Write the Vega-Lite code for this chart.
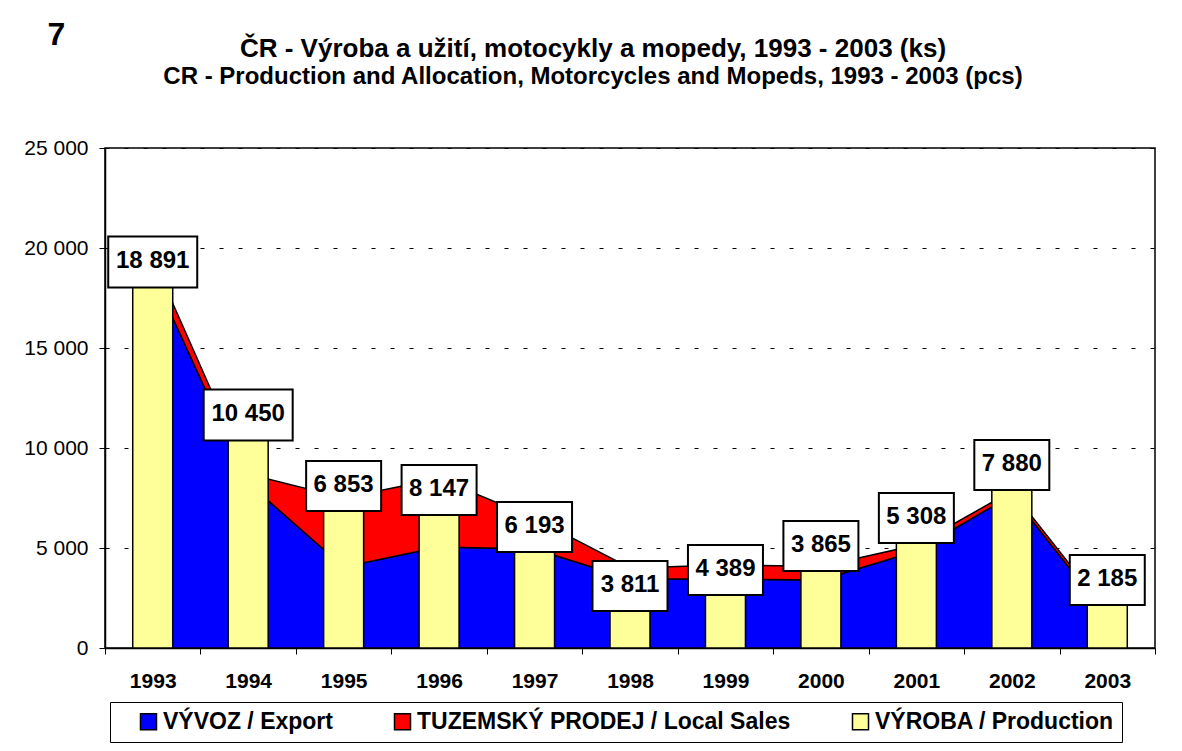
{
  "$schema": "https://vega.github.io/schema/vega-lite/v6.json",
  "width": 1050,
  "height": 500,
  "autosize": {"type": "none"},
  "padding": {"left": 105, "top": 148, "right": 27, "bottom": 103},
  "background": "white",
  "title": {
    "text": "ČR - Výroba a užití, motocykly a mopedy, 1993 - 2003 (ks)",
    "subtitle": "CR - Production and Allocation, Motorcycles and Mopeds, 1993 - 2003 (pcs)",
    "anchor": "middle",
    "frame": "group",
    "dx": -37,
    "offset": -71,
    "font": "Liberation Sans",
    "fontSize": 26,
    "fontWeight": "bold",
    "color": "black",
    "subtitleFont": "Liberation Sans",
    "subtitleFontSize": 24,
    "subtitleFontWeight": "bold",
    "subtitleColor": "black",
    "subtitlePadding": 3
  },
  "datasets": {
    "areas": [
      {"year": "1993", "series": "VÝVOZ / Export", "value": 18700},
      {"year": "1994", "series": "VÝVOZ / Export", "value": 8250},
      {"year": "1995", "series": "VÝVOZ / Export", "value": 4050},
      {"year": "1996", "series": "VÝVOZ / Export", "value": 5050},
      {"year": "1997", "series": "VÝVOZ / Export", "value": 4950},
      {"year": "1998", "series": "VÝVOZ / Export", "value": 3450},
      {"year": "1999", "series": "VÝVOZ / Export", "value": 3450},
      {"year": "2000", "series": "VÝVOZ / Export", "value": 3400},
      {"year": "2001", "series": "VÝVOZ / Export", "value": 4850},
      {"year": "2002", "series": "VÝVOZ / Export", "value": 7650},
      {"year": "2003", "series": "VÝVOZ / Export", "value": 1600},
      {"year": "1993", "series": "TUZEMSKÝ PRODEJ / Local Sales", "value": 800},
      {"year": "1994", "series": "TUZEMSKÝ PRODEJ / Local Sales", "value": 450},
      {"year": "1995", "series": "TUZEMSKÝ PRODEJ / Local Sales", "value": 3450},
      {"year": "1996", "series": "TUZEMSKÝ PRODEJ / Local Sales", "value": 3420},
      {"year": "1997", "series": "TUZEMSKÝ PRODEJ / Local Sales", "value": 1530},
      {"year": "1998", "series": "TUZEMSKÝ PRODEJ / Local Sales", "value": 550},
      {"year": "1999", "series": "TUZEMSKÝ PRODEJ / Local Sales", "value": 700},
      {"year": "2000", "series": "TUZEMSKÝ PRODEJ / Local Sales", "value": 680},
      {"year": "2001", "series": "TUZEMSKÝ PRODEJ / Local Sales", "value": 300},
      {"year": "2002", "series": "TUZEMSKÝ PRODEJ / Local Sales", "value": 200},
      {"year": "2003", "series": "TUZEMSKÝ PRODEJ / Local Sales", "value": 200}
    ],
    "production": [
      {"year": "1993", "production": 18050, "label": "18 891"},
      {"year": "1994", "production": 10400, "label": "10 450"},
      {"year": "1995", "production": 6850, "label": "6 853"},
      {"year": "1996", "production": 6650, "label": "8 147"},
      {"year": "1997", "production": 4800, "label": "6 193"},
      {"year": "1998", "production": 1850, "label": "3 811"},
      {"year": "1999", "production": 2650, "label": "4 389"},
      {"year": "2000", "production": 3850, "label": "3 865"},
      {"year": "2001", "production": 5250, "label": "5 308"},
      {"year": "2002", "production": 7900, "label": "7 880"},
      {"year": "2003", "production": 2150, "label": "2 185"}
    ]
  },
  "layer": [
    {
      "data": {"name": "areas"},
      "mark": {"type": "area", "opacity": 1, "stroke": "black", "strokeWidth": 1.5, "strokeJoin": "miter"},
      "encoding": {
        "x": {
          "field": "year", "type": "ordinal", "title": null,
          "scale": {"paddingInner": 0, "paddingOuter": 0},
          "axis": {"labelAngle": 0, "tickBand": "extent", "grid": false}
        },
        "y": {
          "field": "value", "type": "quantitative", "stack": "zero", "title": "7",
          "scale": {"domain": [0, 25000], "nice": false},
          "axis": {
            "values": [0, 5000, 10000, 15000, 20000, 25000],
            "labelExpr": "replace(datum.label, ',', ' ')",
            "grid": true
          }
        },
        "color": {
          "field": "series", "type": "nominal",
          "scale": {
            "domain": ["VÝVOZ / Export", "TUZEMSKÝ PRODEJ / Local Sales", "VÝROBA / Production"],
            "range": ["#0000FF", "#FF0000", "#FFFF99"]
          },
          "legend": {
            "title": " ", "titleOrient": "left", "titlePadding": 19, "titleFontSize": 22,
            "orient": "none", "legendX": 5, "legendY": 554
          }
        },
        "order": {"field": "series", "sort": "descending"}
      }
    },
    {
      "data": {"name": "production"},
      "mark": {"type": "bar", "size": 40, "stroke": "black", "strokeWidth": 1.5, "opacity": 1},
      "encoding": {
        "x": {"field": "year", "type": "ordinal", "title": null},
        "y": {"field": "production", "type": "quantitative", "title": "7"},
        "color": {"datum": "VÝROBA / Production"}
      }
    },
    {
      "data": {"name": "production"},
      "transform": [{"filter": "length(datum.label) > 5"}],
      "mark": {
        "type": "point", "filled": true, "fill": "white", "stroke": "black", "strokeWidth": 2,
        "opacity": 1, "fillOpacity": 1, "strokeOpacity": 1,
        "shape": "M-1,-0.573L1,-0.573L1,0.573L-1,0.573Z", "size": 7921, "yOffset": -25
      },
      "encoding": {
        "x": {"field": "year", "type": "ordinal", "title": null},
        "y": {"field": "production", "type": "quantitative", "title": "7"}
      }
    },
    {
      "data": {"name": "production"},
      "transform": [{"filter": "length(datum.label) <= 5"}],
      "mark": {
        "type": "point", "filled": true, "fill": "white", "stroke": "black", "strokeWidth": 2,
        "opacity": 1, "fillOpacity": 1, "strokeOpacity": 1,
        "shape": "M-1,-0.667L1,-0.667L1,0.667L-1,0.667Z", "size": 5625, "yOffset": -25
      },
      "encoding": {
        "x": {"field": "year", "type": "ordinal", "title": null},
        "y": {"field": "production", "type": "quantitative", "title": "7"}
      }
    },
    {
      "data": {"name": "production"},
      "mark": {
        "type": "text", "font": "Liberation Sans", "fontSize": 24, "fontWeight": "bold",
        "color": "black", "baseline": "middle", "align": "center", "yOffset": -26
      },
      "encoding": {
        "x": {"field": "year", "type": "ordinal", "title": null},
        "y": {"field": "production", "type": "quantitative", "title": "7"},
        "text": {"field": "label", "type": "nominal"}
      }
    }
  ],
  "config": {
    "font": "Liberation Sans",
    "view": {"stroke": "black", "strokeWidth": 1.5},
    "axis": {
      "domainColor": "black",
      "domainWidth": 1.5,
      "tickColor": "black",
      "tickWidth": 1,
      "tickSize": 6,
      "labelColor": "black",
      "labelFont": "Liberation Sans",
      "labelFontSize": 21
    },
    "axisX": {"labelFontWeight": "bold", "labelPadding": 16},
    "axisY": {
      "labelPadding": 11,
      "gridColor": "black",
      "gridDash": [4, 15],
      "gridWidth": 1,
      "gridOpacity": 1,
      "titleAngle": 0,
      "titleAlign": "left",
      "titleBaseline": "middle",
      "titleX": -58,
      "titleY": -114,
      "titleFont": "Liberation Sans",
      "titleFontSize": 32,
      "titleFontWeight": "bold",
      "titleColor": "black"
    },
    "legend": {
      "direction": "horizontal",
      "labelFont": "Liberation Sans",
      "labelFontSize": 23,
      "labelFontWeight": "bold",
      "labelColor": "black",
      "labelLimit": 600,
      "labelOffset": 3,
      "symbolType": "square",
      "symbolSize": 256,
      "symbolStrokeColor": "black",
      "symbolStrokeWidth": 1.5,
      "symbolOpacity": 1,
      "strokeColor": "black",
      "fillColor": "white",
      "padding": 8,
      "columnPadding": 58
    }
  }
}
